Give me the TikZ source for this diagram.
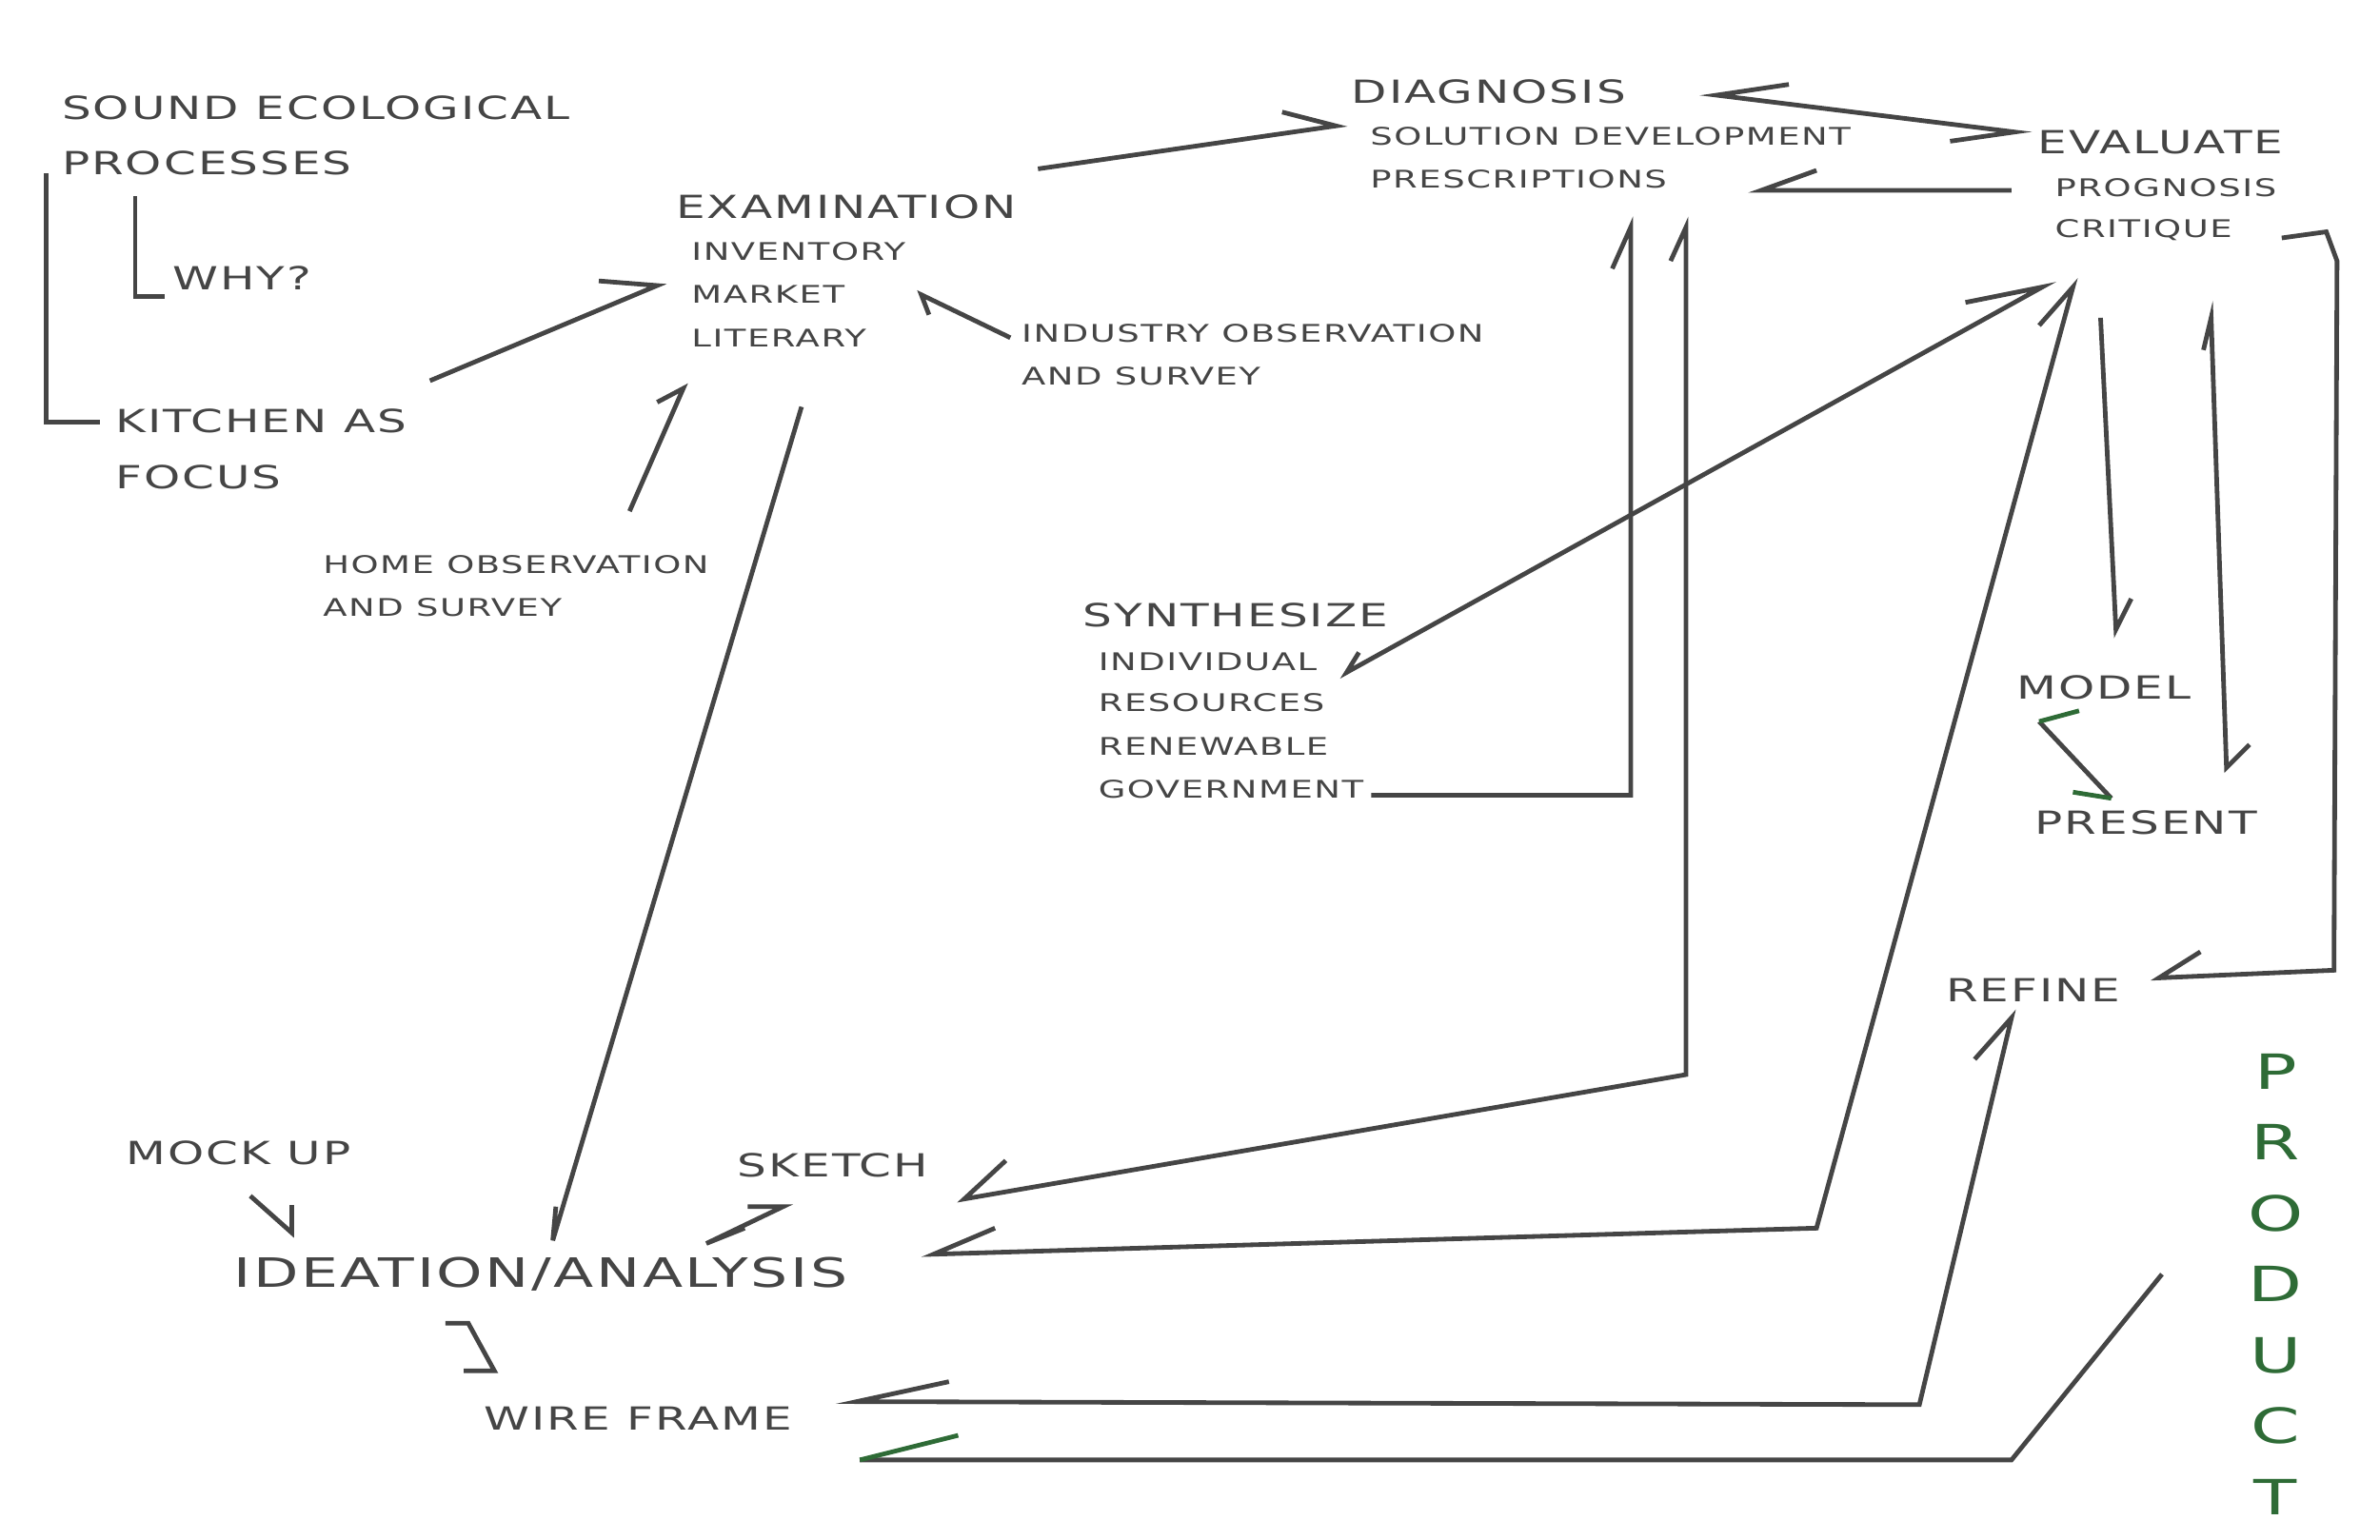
\documentclass[tikz,border=0pt]{standalone}
\usepackage{fontspec}
\setmainfont{DejaVu Sans}[FakeStretch=1.45, LetterSpace=6]
\usepackage{tikz}
\definecolor{ink}{HTML}{454545}
\definecolor{leaf}{HTML}{2E6B36}
\begin{document}
\begin{tikzpicture}[x=0.02cm, y=-0.02cm,
    big/.style={anchor=west, inner sep=0pt, text=ink, font=\fontsize{11.8}{12}\selectfont},
    small/.style={anchor=west, inner sep=0pt, text=ink, font=\fontsize{9}{9}\selectfont},
    line/.style={draw=ink, line width=1.7pt, line join=miter},
    tick/.style={draw=leaf, line width=1.7pt}
]
    \useasboundingbox (0,0) rectangle (1550,1003);
    % Labels
    \node[big] (sound) at (40,70) {SOUND ECOLOGICAL};
    \node[big] (proc) at (40,106) {PROCESSES};
    \node[big] (why) at (112,181) {WHY?};
    \node[big] (kitchen) at (75,274) {KITCHEN AS};
    \node[big] (focus) at (75,311) {FOCUS};
    \node[big] (exam) at (440,135) {EXAMINATION};
    \node[small] (inv) at (450,164) {INVENTORY};
    \node[small] (market) at (450,192) {MARKET};
    \node[small] (lit) at (450,220) {LITERARY};
    \node[small] (indobs) at (665,217) {INDUSTRY OBSERVATION};
    \node[small] (indsur) at (665,245) {AND SURVEY};
    \node[small] (homeobs) at (210,368) {HOME OBSERVATION};
    \node[small] (homesur) at (210,396) {AND SURVEY};
    \node[big] (diag) at (880,60) {DIAGNOSIS};
    \node[small] (soldev) at (892,89) {SOLUTION DEVELOPMENT};
    \node[small] (presc) at (892,117) {PRESCRIPTIONS};
    \node[big] (eval) at (1327,93) {EVALUATE};
    \node[small] (progn) at (1338,122) {PROGNOSIS};
    \node[small] (crit) at (1338,150) {CRITIQUE};
    \node[big] (synth) at (705,401) {SYNTHESIZE};
    \node[small] (indiv) at (715,431) {INDIVIDUAL};
    \node[small] (resour) at (715,458) {RESOURCES};
    \node[small] (renew) at (715,486) {RENEWABLE};
    \node[small] (gov) at (715,514) {GOVERNMENT};
    \node[big] (model) at (1313,448) {MODEL};
    \node[big] (present) at (1325,536) {PRESENT};
    \node[big] (refine) at (1267,645) {REFINE};
    \node[big] (mock) at (82,751) {MOCK UP};
    \node[big] (sketch) at (480,759) {SKETCH};
    \node[big, font=\fontsize{15}{15}\selectfont] (idea) at (152,830) {IDEATION/ANALYSIS};
    \node[big] (wire) at (315,924) {WIRE FRAME};
    % Product, one letter under the other
    \foreach \ch [count=\i from 0] in {P,R,O,D,U,C,T}
        \node[big, anchor=center, text=leaf, font=\fontsize{18}{18}\selectfont] (prod\i) at (1482,698+46.2*\i) {\ch};
    % Strokes
    \draw[line] (30,113) -- (30,275) -- (65,275);
    \draw[line] (88,128) -- (88,193) -- (107,193);
    \draw[line] (280,248) -- (428,186) -- (390,183);
    \draw[line] (410,333) -- (445,253) -- (428,262);
    \draw[line] (658,220) -- (600,192) -- (605,205);
    \draw[line] (522,265) -- (360,808) -- (362,786);
    \draw[line] (676,110) -- (870,82) -- (835,73);
    \draw[line] (1165,55) -- (1118,62) -- (1312,86) -- (1270,92);
    \draw[line] (1310,124) -- (1147,124) -- (1183,111);
    \draw[line] (893,518) -- (1062,518) -- (1062,148) -- (1050,175);
    \draw[line] (1088,170) -- (1098,148) -- (1098,700) -- (628,781) -- (655,756);
    \draw[line] (885,425) -- (877,438) -- (1330,187) -- (1280,197);
    \draw[line] (648,800) -- (608,817) -- (1183,800) -- (1350,187) -- (1328,212);
    \draw[line] (1368,207) -- (1378,410) -- (1388,390);
    \draw[line] (1435,228) -- (1440,207) -- (1450,500) -- (1465,485);
    \draw[line] (1486,155) -- (1515,151) -- (1522,170) -- (1520,632) -- (1406,637) -- (1433,620);
    \draw[line] (618,900) -- (558,913) -- (1250,915) -- (1310,663) -- (1286,690);
    \draw[line] (560,951) -- (1310,951) -- (1408,830);
    \draw[tick] (560,951) -- (624,935);
    \draw[line] (1328,470) -- (1375,520);
    \draw[tick] (1328,470) -- (1354,463);
    \draw[tick] (1350,516) -- (1375,520);
    \draw[line] (487,786) -- (510,786) -- (460,810) -- (485,800);
    \draw[line] (163,779) -- (190,803) -- (190,785);
    \draw[line] (290,862) -- (305,862) -- (322,893) -- (302,893);
\end{tikzpicture}
\end{document}
